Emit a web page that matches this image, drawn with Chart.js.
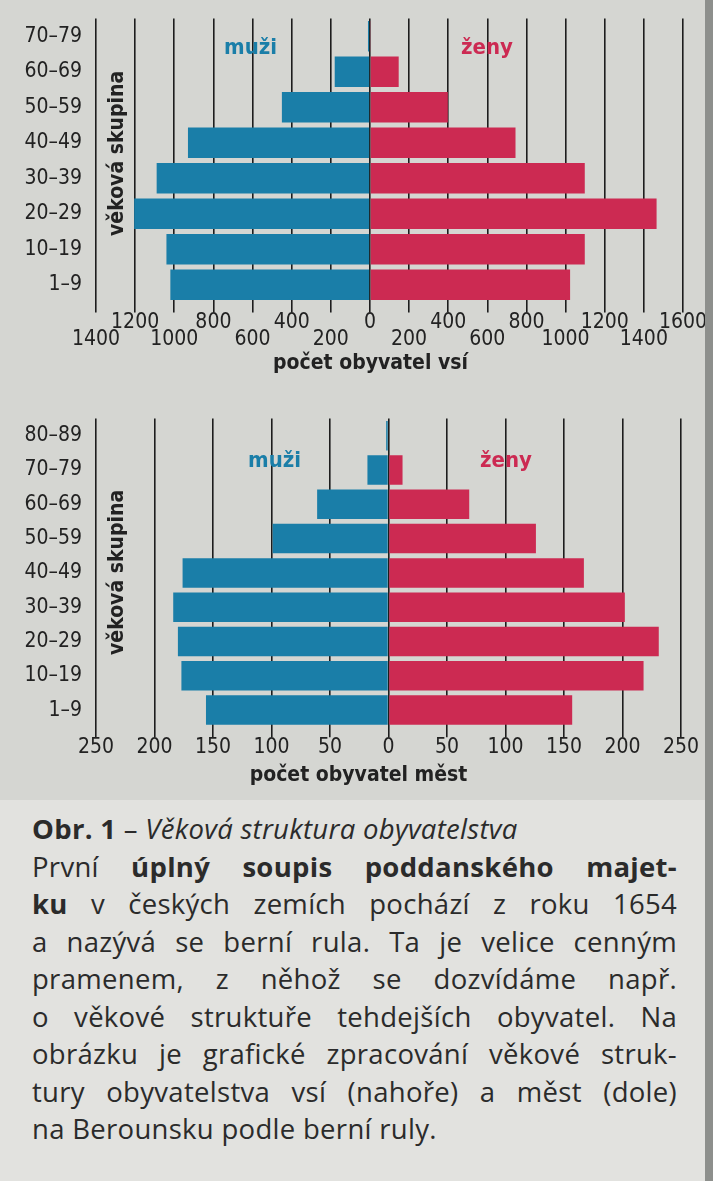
<!DOCTYPE html>
<html><head><meta charset="utf-8">
<script src="https://cdn.jsdelivr.net/npm/chart.js@4.4.0/dist/chart.umd.min.js"></script>
<style>
body{margin:0;width:713px;height:1181px;background:#d5d6d2;position:relative;overflow:hidden;font-family:'DejaVu Sans Condensed','Open Sans',sans-serif;color:#222}
canvas{position:absolute;left:0}
.lab{position:absolute;font-size:22px;font-weight:bold}
.ytitle{position:absolute;font-size:21px;font-weight:bold;transform:rotate(-90deg);transform-origin:left top;white-space:nowrap}
.xt{position:absolute;font-size:21px;font-weight:bold;width:713px;text-align:center;left:0}
#txt{position:absolute;left:0;top:800px;width:705px;height:381px;background:#e2e2df;font-family:'Open Sans',sans-serif;font-size:27.5px;letter-spacing:0.3px;line-height:37.5px;color:#2b2b2b}
#txt div{padding:0 28px 0 32px;text-align:justify;text-align-last:justify}
#strip{position:absolute;left:705px;top:0;width:8px;height:1181px;background:#8d8f8c}
</style></head><body>
<canvas id="villages" width="713" height="380" style="top:0"></canvas>
<canvas id="towns" width="713" height="400" style="top:400px"></canvas>
<div class="lab" style="left:224px;top:34px;color:#1a7ea8">muži</div>
<div class="lab" style="left:461px;top:34px;color:#cc2a52">ženy</div>
<div class="ytitle" style="left:104px;top:236px">věková skupina</div>
<div class="xt" style="top:350px;left:14px">počet obyvatel vsí</div>
<div class="lab" style="left:248px;top:447px;color:#1a7ea8">muži</div>
<div class="lab" style="left:480px;top:447px;color:#cc2a52">ženy</div>
<div class="ytitle" style="left:104px;top:655px">věková skupina</div>
<div class="xt" style="top:762px;left:2px">počet obyvatel měst</div>
<div id="txt" style="padding-top:10px">
<div style="text-align-last:left"><b>Obr. 1</b> – <i>Věková struktura obyvatelstva</i></div>
<div>První <b>úplný soupis poddanského majet-</b></div>
<div><b>ku</b> v českých zemích pochází z roku 1654</div>
<div>a nazývá se berní rula. Ta je velice cenným</div>
<div>pramenem, z něhož se dozvídáme např.</div>
<div>o věkové struktuře tehdejších obyvatel. Na</div>
<div>obrázku je grafické zpracování věkové struk-</div>
<div>tury obyvatelstva vsí (nahoře) a měst (dole)</div>
<div style="text-align-last:left">na Berounsku podle berní ruly.</div>
</div>
<div id="strip"></div>
<script>
const villageAges = ['70–79','60–69','50–59','40–49','30–39','20–29','10–19','1–9'];
const villageMen = [10, 180, 450, 930, 1090, 1205, 1040, 1020];
const villageWomen = [5, 147, 398, 744, 1098, 1465, 1098, 1023];

const townAges = ['80–89','70–79','60–69','50–59','40–49','30–39','20–29','10–19','1–9'];
const townMen = [2, 18, 61, 99, 176, 184, 180, 177, 156];
const townWomen = [0, 12, 69, 126, 167, 202, 231, 218, 157];

const BLUE = '#1a7ea8', RED = '#cc2a52';
Chart.defaults.font.family = "'DejaVu Sans Condensed','Open Sans',sans-serif";
Chart.defaults.color = '#222';

function pyramid(id, ages, men, women, min, max, step, tickCb, pad) {
  new Chart(document.getElementById(id), {
    type: 'bar',
    data: {
      labels: ages,
      datasets: [
        { data: men.map(v => -v), backgroundColor: BLUE },
        { data: women, backgroundColor: RED }
      ]
    },
    options: {
      indexAxis: 'y', responsive: false, animation: false,
      categoryPercentage: 0.86, barPercentage: 1,
      layout: { padding: pad },
      plugins: { legend: { display: false }, tooltip: { enabled: false } },
      scales: {
        x: {
          stacked: true, min: min, max: max,
          border: { display: false },
          grid: { color: '#1d1d1d', lineWidth: 1.6, tickLength: 10, z: -1 },
          ticks: { stepSize: step, autoSkip: false, maxRotation: 0, padding: 2,
                   font: { size: 21, lineHeight: 0.8 }, callback: tickCb }
        },
        y: {
          stacked: true,
          border: { display: false },
          grid: { display: false },
          afterFit: s => { s.width = 96; },
          ticks: { font: { size: 21 }, padding: 6 }
        }
      }
    }
  });
}

pyramid('villages', villageAges, villageMen, villageWomen, -1400, 1600, 200,
  (v, i) => i % 2 ? [String(Math.abs(v)), ''] : ['', String(Math.abs(v))],
  { top: 8, right: 30, bottom: 30, left: 0 });
pyramid('towns', townAges, townMen, townWomen, -250, 250, 50,
  v => String(Math.abs(v)),
  { top: 14, right: 32, bottom: 42, left: 0 });
</script>
</body></html>
